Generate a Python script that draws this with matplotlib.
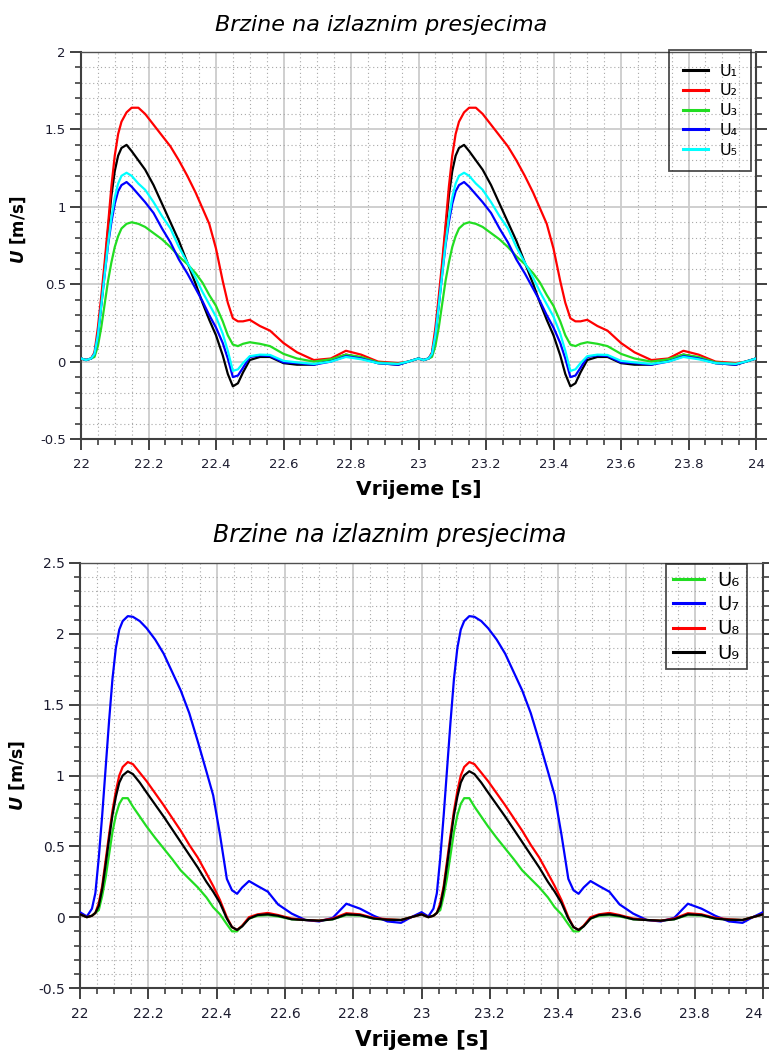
import numpy as np
import matplotlib
matplotlib.use('Agg')
import matplotlib.pyplot as plt
from matplotlib.ticker import MultipleLocator, FuncFormatter

plt.rcParams['font.family'] = 'DejaVu Sans'
plt.rcParams['axes.unicode_minus'] = False
plt.rcParams['mathtext.fontset'] = 'custom'
plt.rcParams['mathtext.it'] = 'DejaVu Sans:italic:bold'

# the two cycles (22-23 s and 23-24 s) look identical, values read once per cycle
cycle_starts = [22.0, 23.0]

# --- upper chart: U1..U5, time offset inside a cycle [s]
t_top = [0, .015, .03, .04, .05, .06, .07, .08, .09, .10, .11, .12, .135, .15, .17, .19,
         .215, .24, .265, .29, .315, .34, .36, .38, .40, .42, .435, .45, .465, .48, .50,
         .53, .56, .60, .64, .69, .74, .785, .83, .88, .94, .97, 1.0]
u1 = [.02, .01, .02, .05, .18, .38, .6, .85, 1.07, 1.23, 1.33, 1.38, 1.40, 1.36, 1.3, 1.24,
      1.14, 1.02, .9, .78, .64, .5, .38, .27, .17, .04, -.08, -.16, -.14, -.07, .01,
      .03, .03, -.01, -.02, -.02, .01, .045, .025, -.01, -.02, .0, .02]
u2 = [.02, .01, .02, .06, .22, .42, .64, .88, 1.13, 1.33, 1.47, 1.55, 1.61, 1.64, 1.64, 1.6,
      1.53, 1.46, 1.39, 1.30, 1.2, 1.09, .99, .89, .73, .52, .38, .28, .26, .26, .27,
      .23, .2, .12, .06, .01, .02, .07, .045, .0, -.01, .0, .02]
u3 = [.02, .01, .02, .03, .1, .22, .37, .52, .64, .74, .81, .86, .89, .9, .89, .87,
      .83, .79, .74, .68, .63, .57, .51, .43, .36, .26, .17, .11, .1, .115, .125,
      .115, .1, .05, .02, .0, .015, .045, .03, -.005, -.015, .0, .02]
u4 = [.02, .01, .02, .05, .17, .36, .56, .75, .9, 1.02, 1.1, 1.14, 1.16, 1.13, 1.08, 1.03,
      .96, .86, .77, .66, .57, .47, .39, .3, .22, .12, .02, -.1, -.09, -.04, .03,
      .04, .036, -.005, -.01, -.02, .0, .035, .02, -.01, -.02, .0, .02]
u5 = [.02, .01, .02, .05, .17, .36, .56, .76, .93, 1.06, 1.15, 1.2, 1.22, 1.2, 1.15, 1.11,
      1.03, .94, .86, .74, .64, .54, .45, .37, .29, .18, .07, -.06, -.05, -.01, .035,
      .045, .043, .005, -.005, -.015, .0, .03, .015, -.01, -.015, .0, .02]

# --- lower chart: U6..U9
t_bot = [0, .02, .035, .045, .055, .065, .075, .085, .095, .105, .115, .125, .14, .155, .175,
         .195, .22, .245, .27, .295, .32, .345, .37, .39, .41, .43, .445, .46, .475, .495,
         .52, .55, .58, .62, .66, .70, .74, .78, .82, .86, .90, .94, .97, 1.0]
u6 = [.02, .0, .01, .03, .05, .15, .28, .44, .6, .72, .8, .84, .84, .78, .71,
      .64, .56, .485, .41, .33, .27, .21, .14, .07, .02, -.05, -.1, -.1, -.06, -.01,
      .01, .015, .005, -.015, -.02, -.025, -.015, .015, .012, -.01, -.018, -.02, .0, .02]
u7 = [.035, .005, .06, .17, .42, .72, 1.05, 1.38, 1.68, 1.90, 2.03, 2.09, 2.125, 2.12, 2.09,
      2.04, 1.96, 1.86, 1.73, 1.60, 1.44, 1.24, 1.03, .86, .58, .27, .19, .165, .21, .255,
      .22, .18, .09, .025, -.02, -.03, -.005, .095, .06, .01, -.03, -.04, .0, .035]
u8 = [.02, .0, .01, .03, .1, .22, .4, .58, .75, .89, 1.0, 1.06, 1.095, 1.08, 1.02,
      .96, .875, .79, .7, .61, .51, .42, .31, .22, .12, .0, -.07, -.09, -.06, .0,
      .02, .03, .015, -.01, -.02, -.025, -.01, .028, .02, -.005, -.015, -.02, .0, .02]
u9 = [.02, .0, .01, .03, .08, .2, .37, .55, .72, .85, .95, 1.0, 1.03, 1.01, .95,
      .88, .795, .71, .62, .53, .44, .35, .25, .18, .1, -.01, -.07, -.09, -.065, -.01,
      .015, .02, .01, -.015, -.02, -.025, -.015, .02, .015, -.01, -.018, -.02, .0, .02]

top_series = [('U₁', u1, 'black'), ('U₂', u2, '#ff0000'), ('U₃', u3, '#22dd22'),
              ('U₄', u4, '#0000ff'), ('U₅', u5, '#00ffff')]
bot_series = [('U₆', u6, '#22dd22'), ('U₇', u7, '#0000ff'), ('U₈', u8, '#ff0000'),
              ('U₉', u9, 'black')]

W, H = 769, 1055
fig = plt.figure(figsize=(W / 100, H / 100), dpi=100)


def px_axes(l, t, r, b):
    return fig.add_axes([l / W, 1 - b / H, (r - l) / W, (b - t) / H])


def style_axes(ax, ymin, ymax, tick_size):
    ax.set_xlim(22, 24)
    ax.set_ylim(ymin, ymax)
    ax.xaxis.set_major_locator(MultipleLocator(0.2))
    ax.xaxis.set_minor_locator(MultipleLocator(0.05))
    ax.yaxis.set_major_locator(MultipleLocator(0.5))
    ax.yaxis.set_minor_locator(MultipleLocator(0.1))
    fmt = FuncFormatter(lambda v, p: '%g' % round(v, 2))
    ax.xaxis.set_major_formatter(fmt)
    ax.yaxis.set_major_formatter(fmt)
    ax.grid(which='major', color='#cccccc', lw=1.3, zorder=0)
    ax.grid(which='minor', color='#a8a8a8', lw=0.8, linestyle=(0, (1, 2.5)), zorder=0)
    ax.set_axisbelow(True)
    for s in ['left', 'bottom', 'right']:
        ax.spines[s].set_color('#404040')
        ax.spines[s].set_linewidth(1.5)
    ax.spines['top'].set_color('#505050')
    ax.spines['top'].set_linewidth(1.0)
    ax.tick_params(which='major', direction='out', length=8, width=1.4, color='#404040',
                   labelsize=tick_size, labelcolor='#1c1c30', pad=3)
    ax.tick_params(which='minor', direction='out', length=4.5, width=1.2, color='#404040')
    ax.tick_params(axis='x', which='major', pad=6)
    ax.tick_params(axis='y', which='both', right=True, labelright=False)


def draw(ax, t_cycle, series):
    for name, vals, col in series:
        tt = np.concatenate([np.array(t_cycle) + c for c in cycle_starts])
        vv = np.concatenate([np.array(vals) for c in cycle_starts])
        ax.plot(tt, vv, color=col, lw=1.6, label=name, zorder=3)


def add_legend(ax, x0, y0, size, spacing, pad):
    leg = ax.legend(loc='upper left', bbox_to_anchor=(x0 / W, 1 - y0 / H),
                    bbox_transform=fig.transFigure, fontsize=size, frameon=True,
                    fancybox=False, handlelength=1.6, handletextpad=0.7,
                    labelspacing=spacing, borderpad=pad, borderaxespad=0)
    leg.get_frame().set_facecolor('none')
    leg.get_frame().set_edgecolor('#202020')
    leg.get_frame().set_linewidth(1.3)
    for line in leg.get_lines():
        line.set_linewidth(2.2)
    return leg


# upper chart
ax1 = px_axes(81, 52, 756, 439)
style_axes(ax1, -0.5, 2, 9.5)
draw(ax1, t_top, top_series)
add_legend(ax1, 669, 50, 11.5, 0.3, 0.85)
ax1.set_xlabel('Vrijeme [s]', fontsize=14.5, fontweight='bold', labelpad=6)
ax1.set_ylabel(r'$\mathit{U}$ [m/s]', fontsize=12, fontweight='bold')
ax1.yaxis.set_label_coords(-0.078, 0.54)
fig.text(381 / W, 1 - 25 / H, 'Brzine na izlaznim presjecima', fontsize=16,
         style='italic', ha='center', va='center')

# lower chart
ax2 = px_axes(80, 563, 763, 988)
style_axes(ax2, -0.5, 2.5, 10)
draw(ax2, t_bot, bot_series)
add_legend(ax2, 666, 564, 14, 0.27, 0.35)
ax2.set_xlabel('Vrijeme [s]', fontsize=15.5, fontweight='bold', labelpad=6)
ax2.set_ylabel(r'$\mathit{U}$ [m/s]', fontsize=12.5, fontweight='bold')
ax2.yaxis.set_label_coords(-0.078, 0.5)
fig.text(390 / W, 1 - 535 / H, 'Brzine na izlaznim presjecima', fontsize=17,
         style='italic', ha='center', va='center')

# keep the "24" tick label of the lower chart inside the picture
fig.canvas.draw()
for tick in ax2.xaxis.get_major_ticks():
    if abs(tick.get_loc() - 24) < 1e-6:
        tick.label1.set_horizontalalignment('right')
        tick.label1.set_x(24.01)

fig.savefig('out.png', dpi=100)
